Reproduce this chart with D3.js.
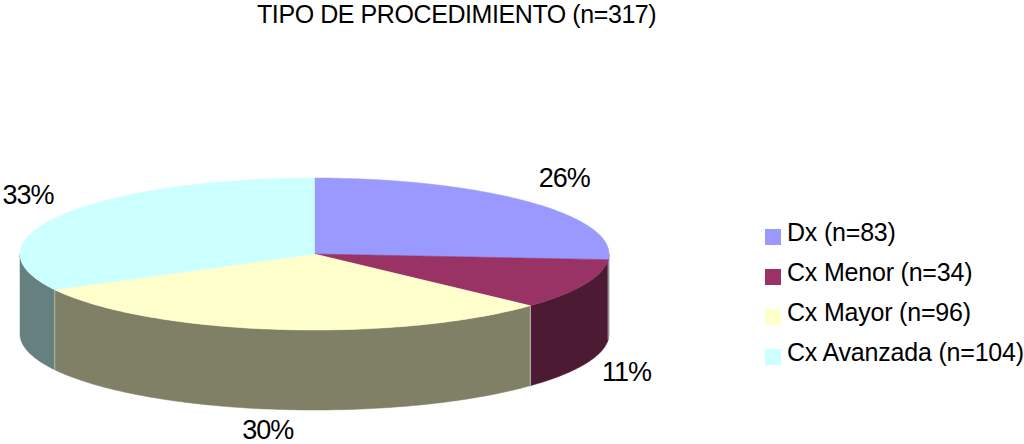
<!DOCTYPE html>
<html lang="en">
    <head>
        <meta charset="utf-8">
        <title>Tipo de procedimiento</title>
        <script src="https://d3js.org/d3.v7.min.js"></script>
        <style type="text/css">
            html, body { margin: 0; padding: 0; background: white; }
            svg { display: block; }
            text { font-family: "Liberation Sans", Arial, sans-serif; fill: #000; }
            .title { font-size: 25px; letter-spacing: -0.42px; }
            .legend { font-size: 25px; letter-spacing: -0.2px; }
            .pct { font-size: 27px; letter-spacing: -1px; }
        </style>
    </head>
    <body>
        <svg width="1024" height="444"></svg>
        <script type="text/javascript">

            const categories = ["Dx", "Cx Menor", "Cx Mayor", "Cx Avanzada"];
            const counts = [83, 34, 96, 104];
            const pctLabels = ["26%", "11%", "30%", "33%"];
            const legendLabels = ["Dx (n=83)", "Cx Menor (n=34)", "Cx Mayor (n=96)", "Cx Avanzada (n=104)"];
            const topColors = ["#9999ff", "#993366", "#ffffcc", "#ccffff"];
            const sideColors = ["#4d4d80", "#4d1a33", "#808066", "#668080"];
            const titleText = "TIPO DE PROCEDIMIENTO (n=317)";

            const svg = d3.select("svg");

            // ellipse of the top face
            const x = d3.scaleLinear().domain([-1, 1]).range([20, 609]);
            const y = d3.scaleLinear().domain([-1, 1]).range([178, 330]);
            const depth = 80;

            const slices = d3.pie().sort(null)(counts);

            // angle is clockwise from 12 o'clock
            const px = a => x(Math.sin(a));
            const py = a => y(-Math.cos(a));
            const line = d3.line();

            function rim(a0, a1) {
                const n = Math.max(2, Math.ceil((a1 - a0) * 60));
                return d3.range(n + 1).map(i => {
                    const a = a0 + (a1 - a0) * i / n;
                    return [px(a), py(a)];
                });
            }

            // side walls, only the front half of the rim shows
            const front0 = Math.PI / 2, front1 = Math.PI * 1.5;
            slices.forEach((d, i) => {
                const a0 = Math.max(d.startAngle, front0);
                const a1 = Math.min(d.endAngle, front1);
                if (a1 <= a0) return;
                const pts = rim(a0, a1);
                const lower = pts.map(p => [p[0], p[1] + depth]).reverse();
                svg.append("path")
                    .attr("d", line(pts.concat(lower)) + "Z")
                    .style("fill", sideColors[i])
                    .style("stroke", sideColors[i])
                    .style("stroke-width", 0.5);
            });

            // pale seams where the side walls meet
            slices.forEach(d => {
                if (d.endAngle <= front0 || d.endAngle >= front1) return;
                svg.append("line")
                    .attr("x1", px(d.endAngle)).attr("y1", py(d.endAngle))
                    .attr("x2", px(d.endAngle)).attr("y2", py(d.endAngle) + depth)
                    .style("stroke", "#b8b8a0")
                    .style("stroke-width", 1);
            });

            // top face
            slices.forEach((d, i) => {
                const pts = [[x(0), y(0)]].concat(rim(d.startAngle, d.endAngle));
                svg.append("path")
                    .attr("d", line(pts) + "Z")
                    .style("fill", topColors[i])
                    .style("stroke", topColors[i])
                    .style("stroke-width", 0.5);
            });

            svg.append("text")
                .attr("class", "title")
                .attr("x", 257)
                .attr("y", 23)
                .text(titleText);

            // percent labels, placed from the slice middle
            const labelShift = [[34, -15], [42, 97], [-9, 110], [-34, -11]];
            slices.forEach((d, i) => {
                const mid = (d.startAngle + d.endAngle) / 2;
                svg.append("text")
                    .attr("class", "pct")
                    .attr("text-anchor", "middle")
                    .attr("x", px(mid) + labelShift[i][0])
                    .attr("y", py(mid) + labelShift[i][1])
                    .text(pctLabels[i]);
            });

            const legendY = d3.scalePoint().domain(categories).range([229, 349]);
            categories.forEach((c, i) => {
                svg.append("rect")
                    .attr("x", 765)
                    .attr("y", legendY(c))
                    .attr("width", 16)
                    .attr("height", 16)
                    .style("fill", topColors[i]);
                svg.append("text")
                    .attr("class", "legend")
                    .attr("x", 787)
                    .attr("y", legendY(c) + 12)
                    .text(legendLabels[i]);
            });

        </script>
    </body>
</html>
